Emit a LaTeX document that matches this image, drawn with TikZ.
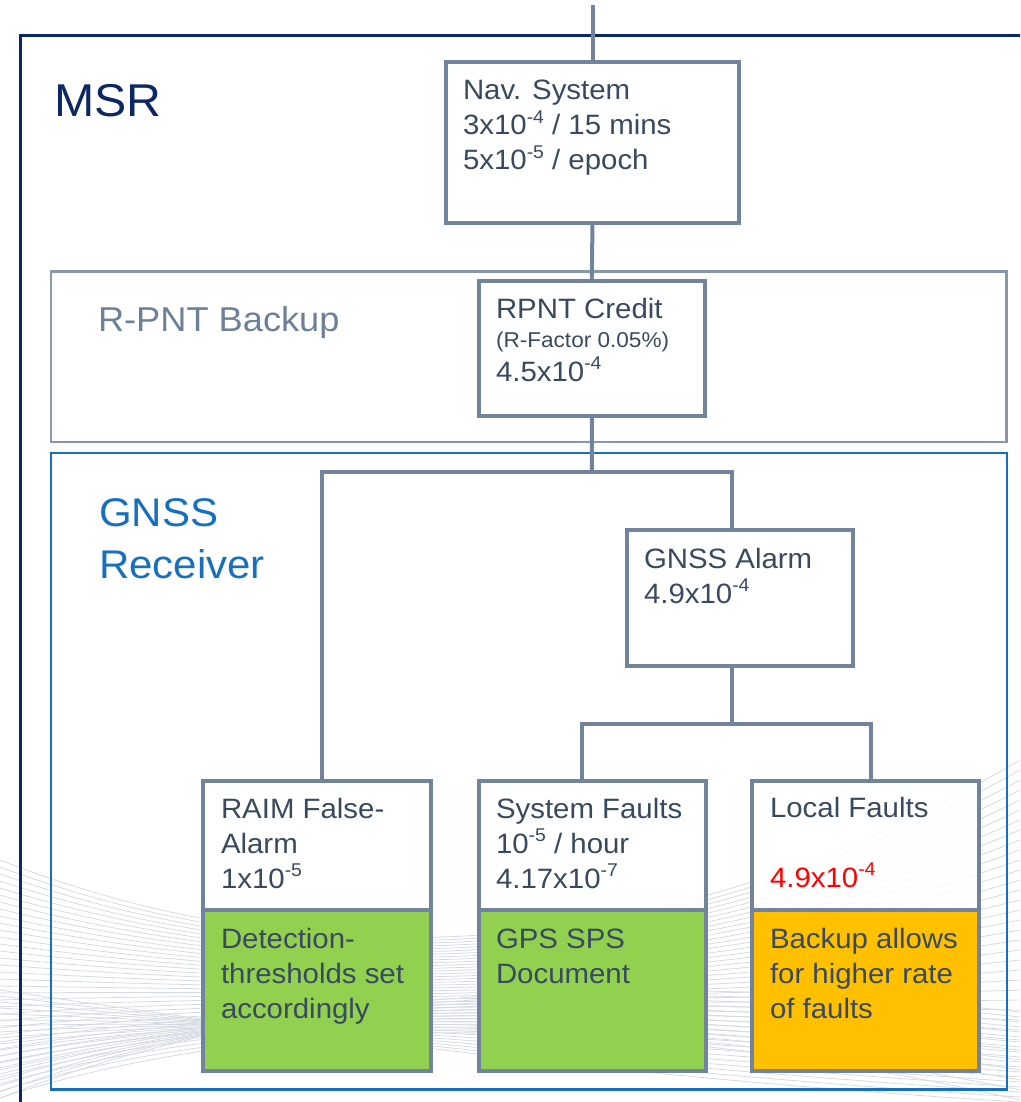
\documentclass[tikz,border=0pt]{standalone}
\usepackage{fontspec}
\setmainfont{Liberation Sans}[FakeStretch=1.05]
\usepackage{graphicx}

\definecolor{msrnavy}{HTML}{0B2766}
\definecolor{slate}{HTML}{71839D}
\definecolor{slatefr}{HTML}{8897AC}
\definecolor{slatetxt}{HTML}{6E8098}
\definecolor{ink}{HTML}{394A60}
\definecolor{gblue}{HTML}{1670BF}
\definecolor{okgreen}{HTML}{92D050}
\definecolor{amber}{HTML}{FFC000}
\definecolor{wavegrey}{HTML}{D5DBE2}
\definecolor{alert}{HTML}{FF0000}

% raised, reduced exponent as in 3x10^-4
\newcommand\supx[1]{\raisebox{0.42em}{\scalebox{0.66}{#1}}}
% left-aligned block whose reference point is the first baseline
\newcommand\lines[1]{\begin{tabular}[t]{@{}l@{}}#1\end{tabular}}

\tikzset{
  box/.style={draw=slate, line width=4pt, inner sep=0pt, outer sep=0pt, anchor=north west},
  whitebox/.style={box, fill=white, fill opacity=0.85},
  greenbox/.style={box, fill=okgreen},
  amberbox/.style={box, fill=amber},
  conn/.style={draw=slate, line width=4pt},
  boxtext/.style={anchor=base west, inner sep=0pt, outer sep=0pt, text=ink, font=\fontsize{28}{35}\selectfont},
  areatext/.style={anchor=base west, inner sep=0pt, outer sep=0pt},
  waveline/.style={draw=wavegrey, line width=0.8pt},
}

\begin{document}
\begin{tikzpicture}[x=1pt, y=-1pt]
\useasboundingbox (0,0) rectangle (1020,1102);
\begin{scope}
\clip (0,0) rectangle (1020,1102);

% soft background line mesh
\foreach \i in {0,...,34}{
  \draw[waveline] (0,860+7*\i) .. controls (260,962+1.5*\i) and (620,995+0.4*\i) .. (1020,760+10*\i);
}
\foreach \i in {0,...,18}{
  \draw[waveline] (0,990+6*\i) .. controls (300,1035-3*\i) and (650,1080-6*\i) .. (1020,1102-5*\i);
}

% grouping frames
\draw[draw=msrnavy, line width=3pt] (20,1130) -- (20,35.5) -- (1040,35.5);
\draw[draw=slatefr, line width=2.5pt] (51,271.5) rectangle (1006.5,442);
\draw[draw=gblue, line width=2.5pt] (51,453) rectangle (1007,1089.5);

% area titles
\node[areatext, text=msrnavy, font=\fontsize{46}{52}\selectfont] (msrlabel) at (54,117) {MSR};
\node[areatext, text=slatetxt, font=\fontsize{34.5}{40}\selectfont] (rpntlabel) at (98,331) {R-PNT Backup};
\node[areatext, text=gblue, font=\fontsize{40}{52}\selectfont] (gnsslabel) at (99,526) {\lines{GNSS\\Receiver}};

% boxes
\node[whitebox, minimum width=293pt, minimum height=161pt] (nav) at (446,62) {};
\node[whitebox, minimum width=226.5pt, minimum height=135pt] (rpnt) at (478.5,281) {};
\node[whitebox, minimum width=226pt, minimum height=136pt] (alarm) at (627,530) {};
\node[whitebox, minimum width=228pt, minimum height=129pt] (raimtop) at (203,781) {};
\node[greenbox, minimum width=228pt, minimum height=161pt] (raimbot) at (203,910) {};
\node[whitebox, minimum width=227pt, minimum height=129pt] (systop) at (479,781) {};
\node[greenbox, minimum width=227pt, minimum height=161pt] (sysbot) at (479,910) {};
\node[whitebox, minimum width=227pt, minimum height=129pt] (loctop) at (752,781) {};
\node[amberbox, minimum width=227pt, minimum height=161pt] (locbot) at (752,910) {};

% connectors
\coordinate (feed) at (592.5,5);
\coordinate (split) at (592,472);
\coordinate (barL) at (322,472);
\coordinate (barR) at (732,472);
\coordinate (split2) at (732,724);
\coordinate (bar2L) at (582,724);
\coordinate (bar2R) at (871,724);

\draw[conn] (feed) -- (nav.north);
\draw[conn] (nav.south) -- (rpnt.north);
\draw[conn] (rpnt.south) -- (split);
\draw[conn] (barL |- raimtop.north) -- (barL) -- (barR) -- (barR |- alarm.north);
\draw[conn] (split2 |- alarm.south) -- (split2);
\draw[conn] (bar2L |- systop.north) -- (bar2L) -- (bar2R) -- (bar2R |- loctop.north);

% redraw box outlines over connector ends
\foreach \b in {nav,rpnt,alarm,raimtop,systop,loctop}{
  \draw[draw=slate, line width=4pt] (\b.north west) rectangle (\b.south east);
}

% box texts
\node[boxtext] (navtext) at (463,100) {\lines{Nav. System\\3x10\supx{-4} / 15 mins\\5x10\supx{-5} / epoch}};
\node[boxtext] (rpnttext) at (496,318) {\lines{RPNT Credit\\[-6pt]{\fontsize{21.5}{24}\selectfont (R-Factor 0.05\%)}\\[-1pt]4.5x10\supx{-4}}};
\node[boxtext] (alarmtext) at (644,568) {\lines{GNSS Alarm\\4.9x10\supx{-4}}};
\node[boxtext] (raimtext) at (221,818) {\lines{RAIM False-\\Alarm\\1x10\supx{-5}}};
\node[boxtext] (systext) at (496,818) {\lines{System Faults\\10\supx{-5} / hour\\4.17x10\supx{-7}}};
\node[boxtext] (loctext) at (770,817) {\lines{Local Faults\\ \\\textcolor{alert}{4.9x10\supx{-4}}}};
\node[boxtext] (raimnote) at (221,948) {\lines{Detection-\\thresholds set\\accordingly}};
\node[boxtext] (sysnote) at (496,948) {\lines{GPS SPS\\Document}};
\node[boxtext] (locnote) at (770,948) {\lines{Backup allows\\for higher rate\\of faults}};
\end{scope}
\end{tikzpicture}
\end{document}
